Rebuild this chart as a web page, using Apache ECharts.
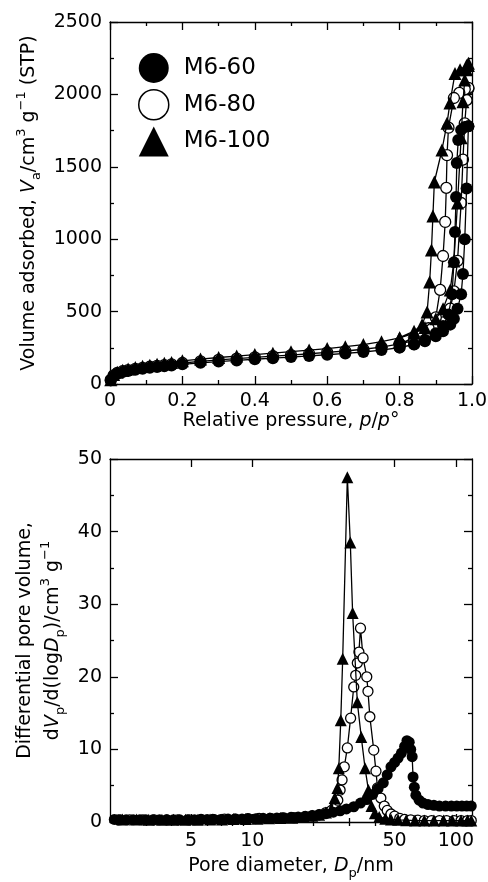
<!DOCTYPE html>
<html>
<head>
<meta charset="utf-8">
<title>M6 isotherms and pore size distributions</title>
<script src="https://cdn.jsdelivr.net/npm/echarts@6/dist/echarts.min.js"></script>
<style>
  * { margin: 0; padding: 0; }
  #main { width: 488px; height: 882px; background: #fff; }
</style>
</head>
<body>
<div id="main"></div>
<script>
// ---- N2 isotherms: adsorption branch (shared relative pressures) ----
var pAds = [0.002, 0.01, 0.02, 0.035, 0.05, 0.07, 0.09, 0.11, 0.13, 0.15, 0.17, 0.2,
            0.25, 0.3, 0.35, 0.4, 0.45, 0.5, 0.55, 0.6, 0.65, 0.7, 0.75, 0.8,
            0.84, 0.87, 0.9, 0.92, 0.94, 0.95, 0.96, 0.97, 0.975, 0.98, 0.985, 0.99];
var ads60  = [25, 55, 70, 82, 90, 99, 106, 112, 118, 123, 128, 136,
              146, 155, 163, 171, 178, 186, 194, 202, 211, 221, 234, 252,
              272, 295, 330, 365, 410, 450, 520, 620, 760, 1000, 1350, 1780];
var ads80  = [28, 60, 76, 88, 96, 105, 112, 119, 125, 131, 136, 145,
              156, 166, 175, 184, 192, 200, 209, 218, 228, 240, 255, 277,
              300, 330, 375, 425, 520, 640, 850, 1250, 1550, 1800, 1960, 2040];
var ads100 = [30, 65, 82, 95, 104, 114, 122, 130, 137, 143, 149, 160,
              172, 183, 193, 203, 213, 223, 234, 245, 258, 272, 292, 318,
              350, 390, 450, 520, 650, 850, 1250, 1700, 1950, 2100, 2170, 2200];

// ---- desorption branches (from high to low pressure) ----
var pDes60  = [0.99, 0.98, 0.97, 0.962, 0.958, 0.956, 0.953, 0.95, 0.945, 0.935, 0.92, 0.9, 0.87, 0.84, 0.8];
var des60   = [1780, 1775, 1755, 1685, 1526, 1291, 1050, 840, 620, 480, 400, 350, 305, 275, 252];
var pDes80  = [0.99, 0.98, 0.965, 0.95, 0.935, 0.931, 0.929, 0.926, 0.92, 0.912, 0.9, 0.88, 0.85, 0.8];
var des80   = [2045, 2035, 2010, 1975, 1770, 1580, 1354, 1119, 884, 650, 460, 385, 330, 277];
var pDes100 = [0.99, 0.985, 0.967, 0.953, 0.939, 0.931, 0.917, 0.896, 0.892, 0.888, 0.883, 0.876, 0.862, 0.84, 0.8];
var des100  = [2215, 2200, 2170, 2145, 1940, 1800, 1616, 1395, 1160, 925, 704, 497, 410, 365, 320];

// ---- pore size distributions: diameter (nm) and dVp/d(logDp) ----
var dp60  = [2.1, 2.25, 2.4, 2.6, 2.8, 3.0, 3.25, 3.5, 3.8, 4.1, 4.4, 4.8, 5.2, 5.6, 6.0, 6.5, 7.0, 7.6, 8.2, 8.9,
             9.6, 10.4, 11.3, 12.2, 13.2, 14.3, 15.5, 16.8, 18.2, 19.7, 21.3, 23, 25, 27, 29, 31.5, 34, 36.5, 39, 41.5,
             44, 46, 48, 50, 52, 54, 56, 57.5, 59, 60, 61, 61.6, 62.5, 63.6, 66, 69, 73, 78, 83, 89,
             95, 101, 107, 113, 119];
var psd60 = [0.35, 0.3, 0.3, 0.3, 0.3, 0.3, 0.3, 0.3, 0.3, 0.3, 0.3, 0.3, 0.3, 0.35, 0.35, 0.35, 0.35, 0.4, 0.4, 0.4,
             0.45, 0.45, 0.5, 0.5, 0.55, 0.6, 0.65, 0.7, 0.8, 0.9, 1.0, 1.15, 1.35, 1.55, 1.8, 2.1, 2.6, 3.1, 3.8, 4.6,
             5.4, 6.5, 7.6, 8.2, 8.8, 9.5, 10.4, 11.2, 11.0, 10.0, 9.0, 6.2, 4.8, 3.7, 3.0, 2.6, 2.4, 2.3, 2.2, 2.2,
             2.2, 2.2, 2.2, 2.2, 2.2];
var dp80  = [2.2, 2.5, 2.9, 3.3, 3.8, 4.3, 4.9, 5.6, 6.4, 7.3, 8.3, 9.5, 10.8, 12.3, 14, 16, 18.2, 19.7, 21.3, 23,
             24.5, 25.5, 26.3, 27, 27.6, 28.3, 29.3, 30.4, 31.5, 32.2, 32.8, 33.4, 34.0, 35.0, 36.5, 37.0, 37.8, 39.5, 40.5, 41.2,
             42.8, 44.5, 46, 48, 50, 53, 56, 60, 65, 70, 76, 83, 90, 98, 106, 114, 119];
var psd80 = [0.3, 0.3, 0.3, 0.3, 0.3, 0.3, 0.3, 0.35, 0.35, 0.4, 0.4, 0.45, 0.5, 0.5, 0.55, 0.6, 0.7, 0.85, 1.0, 1.3,
             1.6, 2.1, 3.0, 4.4, 5.8, 7.6, 10.2, 14.3, 18.6, 20.2, 21.9, 23.4, 26.7, 22.6, 20.0, 18.0, 14.5, 9.9, 7.0, 4.7,
             3.3, 2.2, 1.6, 1.1, 0.8, 0.5, 0.35, 0.3, 0.25, 0.2, 0.2, 0.2, 0.2, 0.2, 0.2, 0.2, 0.2];
var dp100  = [2.3, 2.7, 3.1, 3.6, 4.1, 4.7, 5.4, 6.2, 7.1, 8.1, 9.3, 10.6, 12.1, 13.8, 15.7, 17.9, 19.7, 21.3, 23, 24.5,
              25.4, 26.2, 26.6, 27.2, 27.8, 29.3, 30.3, 31.1, 32.8, 34.3, 35.8, 37.2, 38.5, 40, 42, 45, 48, 52, 57, 63,
              70, 78, 87, 96, 106, 114, 119];
var psd100 = [0.35, 0.35, 0.3, 0.3, 0.3, 0.3, 0.3, 0.35, 0.35, 0.4, 0.4, 0.45, 0.5, 0.55, 0.6, 0.7, 0.85, 1.0, 1.3, 1.8,
              3.3, 4.7, 7.4, 14.0, 22.5, 47.5, 38.5, 28.8, 16.5, 11.7, 7.4, 4.4, 2.2, 1.2, 0.7, 0.45, 0.35, 0.3, 0.25, 0.2,
              0.2, 0.2, 0.2, 0.2, 0.2, 0.2, 0.2];

// ---- axis ticks ----
var psdMajor = [5, 10, 50, 100];
var psdMinor = [3, 4, 6, 7, 8, 9, 20, 30, 40, 60, 70, 80, 90];

function zip(xs, ys) {
    return xs.map(function (x, i) { return [x, ys[i]]; });
}

var FONT = 'DejaVu Sans';
var BLACK = '#000';
var axisLineStyle = { color: BLACK, width: 1.3 };
var rich = {
    n:   { fontSize: 19, fontFamily: FONT, color: BLACK, lineHeight: 28 },
    i:   { fontSize: 19, fontFamily: FONT, color: BLACK, fontStyle: 'italic', lineHeight: 28 },
    sub: { fontSize: 13, fontFamily: FONT, color: BLACK, verticalAlign: 'bottom', lineHeight: 28 },
    sup: { fontSize: 13, fontFamily: FONT, color: BLACK, verticalAlign: 'top', lineHeight: 28 }
};

function valueAxis(extra) {
    var a = {
        type: 'value',
        axisLine: { show: true, onZero: false, lineStyle: axisLineStyle },
        axisTick: { show: true, inside: true, length: 8, lineStyle: axisLineStyle },
        minorTick: { show: true, splitNumber: 2, length: 4, lineStyle: axisLineStyle },
        splitLine: { show: false },
        minorSplitLine: { show: false },
        axisLabel: { show: false }
    };
    for (var k in extra) a[k] = extra[k];
    return a;
}

function logAxis(extra, ticks, len, labels) {
    var a = {
        type: 'log', logBase: 10, gridIndex: 1, min: 2, max: 120,
        axisLine: { show: true, onZero: false, lineStyle: axisLineStyle },
        axisTick: { show: true, inside: true, length: len, customValues: ticks, lineStyle: axisLineStyle },
        minorTick: { show: false },
        splitLine: { show: false },
        axisLabel: labels ? {
            show: true, customValues: psdMajor, margin: 10,
            color: BLACK, fontSize: 19, fontFamily: FONT
        } : { show: false }
    };
    for (var k in extra) a[k] = extra[k];
    return a;
}

var chart = echarts.init(document.getElementById('main'), null, { renderer: 'canvas' });

var option = {
    animation: false,
    backgroundColor: '#fff',
    grid: [
        { left: 110, top: 22, right: 16, height: 362, outerBoundsMode: 'none' },
        { left: 110, top: 459, right: 16, height: 363, outerBoundsMode: 'none' }
    ],
    legend: {
        orient: 'vertical', left: 133, top: 48,
        itemWidth: 30, itemHeight: 30, itemGap: 6,
        selectedMode: false,
        textStyle: { color: BLACK, fontSize: 23, fontFamily: FONT, padding: [0, 0, 0, 10] },
        data: [
            { name: 'M6-60', icon: 'circle', itemStyle: { color: BLACK } },
            { name: 'M6-80', icon: 'circle', itemStyle: { color: '#fff', borderColor: BLACK, borderWidth: 1.5 } },
            { name: 'M6-100', icon: 'triangle', itemStyle: { color: BLACK } }
        ]
    },
    xAxis: [
        valueAxis({
            gridIndex: 0, position: 'bottom', min: 0, max: 1, interval: 0.2,
            axisLabel: {
                show: true, margin: 8, color: BLACK, fontSize: 19, fontFamily: FONT,
                showMinLabel: true, showMaxLabel: true,
                formatter: function (v) { return v === 0 ? '0' : v.toFixed(1); }
            },
            name: '{n|Relative pressure, }{i|p}{n|/}{i|p}{n|°}',
            nameLocation: 'middle', nameGap: 16,
            nameTextStyle: { rich: rich }
        }),
        valueAxis({ gridIndex: 0, position: 'top', min: 0, max: 1, interval: 0.2 }),
        logAxis({
            position: 'bottom',
            name: '{n|Pore diameter, }{i|D}{sub|p}{n|/nm}',
            nameLocation: 'middle', nameGap: 30,
            nameTextStyle: { rich: rich }
        }, psdMajor, 8, true),
        logAxis({ position: 'bottom', axisLine: { show: false } }, psdMinor, 4, false),
        logAxis({ position: 'top' }, psdMajor, 8, false),
        logAxis({ position: 'top', axisLine: { show: false } }, psdMinor, 4, false)
    ],
    yAxis: [
        valueAxis({
            gridIndex: 0, position: 'left', min: 0, max: 2500, interval: 500,
            axisLabel: {
                show: true, margin: 8, color: BLACK, fontSize: 19, fontFamily: FONT,
                showMinLabel: true, showMaxLabel: true,
                formatter: function (v) { return String(v); }
            },
            name: '{n|Volume adsorbed, }{i|V}{sub|a}{n|/cm}{sup|3}{n| g}{sup|−1}{n| (STP)}',
            nameLocation: 'middle', nameGap: 62, nameRotate: 90,
            nameTextStyle: { rich: rich }
        }),
        valueAxis({ gridIndex: 0, position: 'right', min: 0, max: 2500, interval: 500 }),
        valueAxis({
            gridIndex: 1, position: 'left', min: 0, max: 50, interval: 10,
            axisLabel: {
                show: true, margin: 8, color: BLACK, fontSize: 19, fontFamily: FONT,
                showMinLabel: true, showMaxLabel: true,
                formatter: function (v) { return String(v); }
            },
            name: '{n|Differential pore volume,}\n{n|d}{i|V}{sub|p}{n|/d(log}{i|D}{sub|p}{n|)/cm}{sup|3}{n| g}{sup|−1}',
            nameLocation: 'middle', nameGap: 40, nameRotate: 90,
            nameTextStyle: { rich: rich, align: 'center' }
        }),
        valueAxis({ gridIndex: 1, position: 'right', min: 0, max: 50, interval: 10 })
    ],
    series: []
};

function isoSeries(name, symbol, size, itemStyle, ads, pDes, des, z) {
    return {
        name: name, type: 'line', xAxisIndex: 0, yAxisIndex: 0, z: z,
        data: zip(pAds, ads).concat(zip(pDes, des)),
        symbol: symbol, symbolSize: size, showAllSymbol: true,
        itemStyle: itemStyle,
        lineStyle: { color: BLACK, width: 1.3 },
        emphasis: { disabled: true }
    };
}
function psdSeries(name, symbol, size, itemStyle, dp, v, z) {
    return {
        name: name, type: 'line', xAxisIndex: 2, yAxisIndex: 2, z: z,
        data: zip(dp, v),
        symbol: symbol, symbolSize: size, showAllSymbol: true,
        itemStyle: itemStyle,
        lineStyle: { color: BLACK, width: 1.3 },
        emphasis: { disabled: true }
    };
}

var fill = { color: BLACK };
var open = { color: '#fff', borderColor: BLACK, borderWidth: 1.3 };

// open circles sit underneath the filled marks where curves overlap
option.series = [
    isoSeries('M6-80', 'circle', 11, open, ads80, pDes80, des80, 2),
    isoSeries('M6-60', 'circle', 12, fill, ads60, pDes60, des60, 3),
    isoSeries('M6-100', 'triangle', 13, fill, ads100, pDes100, des100, 4),
    psdSeries('M6-80', 'circle', 10, open, dp80, psd80, 2),
    psdSeries('M6-60', 'circle', 11, fill, dp60, psd60, 3),
    psdSeries('M6-100', 'triangle', 12, fill, dp100, psd100, 4)
];

chart.setOption(option);
</script>
</body>
</html>
